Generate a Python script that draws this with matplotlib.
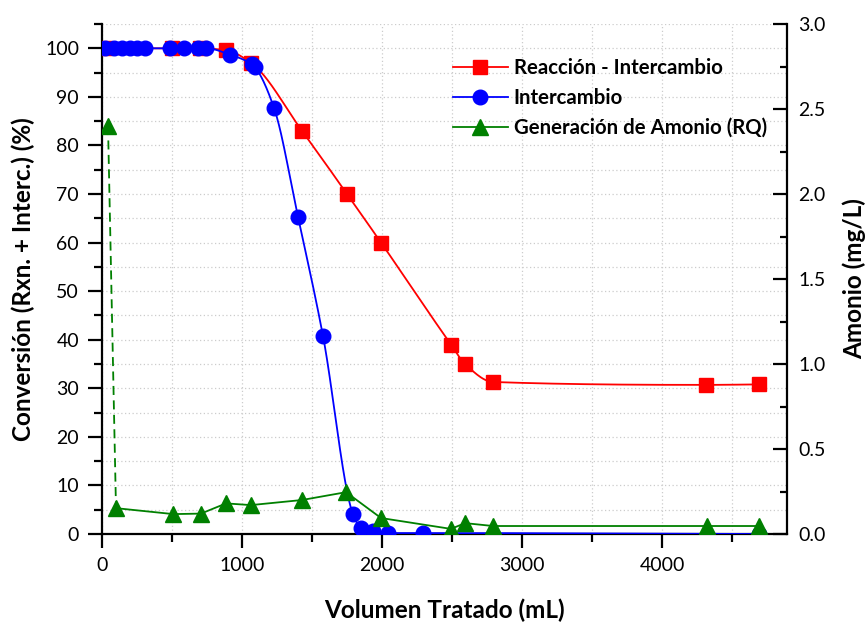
import numpy as np
import matplotlib
matplotlib.use("Agg")
import matplotlib.pyplot as plt
from matplotlib.ticker import MultipleLocator, FormatStrFormatter
from matplotlib.lines import Line2D

plt.rcParams['font.family'] = ['Lato', 'DejaVu Sans']

# Data
red_x = [21, 500, 700, 886, 1064, 1429, 1750, 1993, 2493, 2593, 2793, 4314, 4693]
red_y = [100, 100, 100, 99.6, 97.0, 83.0, 70.0, 60.0, 39.0, 35.0, 31.3, 30.7, 30.8]

blue_x = [21, 86, 143, 200, 250, 307, 486, 586, 686, 743, 914, 1071, 1093, 1229, 1400, 1579, 1793, 1850, 1936, 2043, 2293, 4693]
blue_y = [100, 100, 100, 100, 100, 100, 100, 100, 100, 100, 98.7, 96.7, 96.1, 87.7, 65.3, 40.7, 4.1, 1.2, 0.6, 0.2, 0.2, 0.0]

green_x = [43, 100, 510, 707, 886, 1064, 1429, 1743, 1993, 2493, 2593, 2793, 4321, 4693]
green_y = [2.40, 0.152, 0.117, 0.120, 0.180, 0.170, 0.200, 0.246, 0.094, 0.030, 0.064, 0.047, 0.047, 0.047]

labels = ["Reacción - Intercambio", "Intercambio", "Generación de Amonio (RQ)"]


def pchip(x, y, xn):
    x = np.asarray(x, float); y = np.asarray(y, float)
    h = np.diff(x); d = np.diff(y) / h
    n = len(x)
    m = np.zeros(n)
    for k in range(1, n - 1):
        if d[k - 1] * d[k] > 0:
            w1 = 2 * h[k] + h[k - 1]; w2 = h[k] + 2 * h[k - 1]
            m[k] = (w1 + w2) / (w1 / d[k - 1] + w2 / d[k])
        else:
            m[k] = 0.0
    m[0] = d[0]; m[-1] = d[-1]
    idx = np.clip(np.searchsorted(x, xn) - 1, 0, n - 2)
    t = (xn - x[idx]) / h[idx]
    h00 = 2 * t**3 - 3 * t**2 + 1; h10 = t**3 - 2 * t**2 + t
    h01 = -2 * t**3 + 3 * t**2; h11 = t**3 - t**2
    return h00 * y[idx] + h10 * h[idx] * m[idx] + h01 * y[idx + 1] + h11 * h[idx] * m[idx + 1]


fig = plt.figure(figsize=(8.66, 6.23), dpi=100)
ax = fig.add_axes([102 / 866, 1 - 534 / 623, (787 - 102) / 866, (534 - 24) / 623])
ax2 = ax.twinx()

# red
xs = np.linspace(red_x[0], red_x[-1], 600)
ax.plot(xs, pchip(red_x, red_y, xs), color='#ff0000', lw=1.3, zorder=3)
ax.plot(red_x, red_y, ls='none', marker='s', ms=9.5, color='#ff0000', zorder=4)
# blue
xs = np.linspace(blue_x[0], blue_x[-1], 1200)
ax.plot(xs, pchip(blue_x, blue_y, xs), color='#0000ff', lw=1.3, zorder=5)
ax.plot(blue_x, blue_y, ls='none', marker='o', ms=10.5, color='#0000ff', zorder=6)
# green
ax2.plot(green_x[:2], green_y[:2], color='#008000', lw=1.3, ls=(0, (5, 3)))
ax2.plot(green_x[1:], green_y[1:], color='#008000', lw=1.3)
ax2.plot(green_x, green_y, ls='none', marker='^', ms=11, color='#008000')

ax.set_xlim(0, 4893)
ax.set_ylim(0, 105)
ax2.set_ylim(0, 3.0)

ax.xaxis.set_major_locator(MultipleLocator(1000))
ax.xaxis.set_minor_locator(MultipleLocator(500))
ax.yaxis.set_major_locator(MultipleLocator(10))
ax.yaxis.set_minor_locator(MultipleLocator(5))
ax2.yaxis.set_major_locator(MultipleLocator(0.5))
ax2.yaxis.set_minor_locator(MultipleLocator(0.25))
ax2.yaxis.set_major_formatter(FormatStrFormatter('%.1f'))

ax.grid(True, which='both', ls=(0, (1, 2)), color='#cccccc', lw=0.9)
ax.set_axisbelow(True)

for a in (ax, ax2):
    a.spines['top'].set_visible(False)
    for s in ('left', 'right', 'bottom'):
        a.spines[s].set_linewidth(1.6)
ax.spines['right'].set_visible(False)
ax2.spines['left'].set_visible(False)
ax2.spines['bottom'].set_visible(False)

ax.tick_params(axis='both', which='major', direction='out', length=10, width=1.6, labelsize=14, pad=6.5)
ax.tick_params(axis='both', which='minor', direction='out', length=6, width=1.6)
ax2.tick_params(axis='y', which='major', direction='in', length=10, width=1.6, labelsize=14, pad=8)
ax2.tick_params(axis='y', which='minor', direction='in', length=5, width=1.6)

ax.set_xlabel("Volumen Tratado (mL)", fontsize=17.5, fontweight='bold', labelpad=18)
ax.set_ylabel("Conversión (Rxn. + Interc.) (%)", fontsize=17.5, fontweight='bold', labelpad=7)
ax2.set_ylabel("Amonio (mg/L)", fontsize=17.5, fontweight='bold', labelpad=12)

handles = [
    Line2D([], [], color='#ff0000', lw=1.3, marker='s', ms=9.5),
    Line2D([], [], color='#0000ff', lw=1.3, marker='o', ms=10.5),
    Line2D([], [], color='#008000', lw=1.3, marker='^', ms=11),
]
leg = ax2.legend(handles, labels, loc='upper left', bbox_to_anchor=(0.485, 0.97),
                 frameon=False, prop={'weight': 'bold', 'size': 14.7},
                 handlelength=2.7, handletextpad=0.3, labelspacing=0.5)

fig.savefig("out.png", dpi=100)
